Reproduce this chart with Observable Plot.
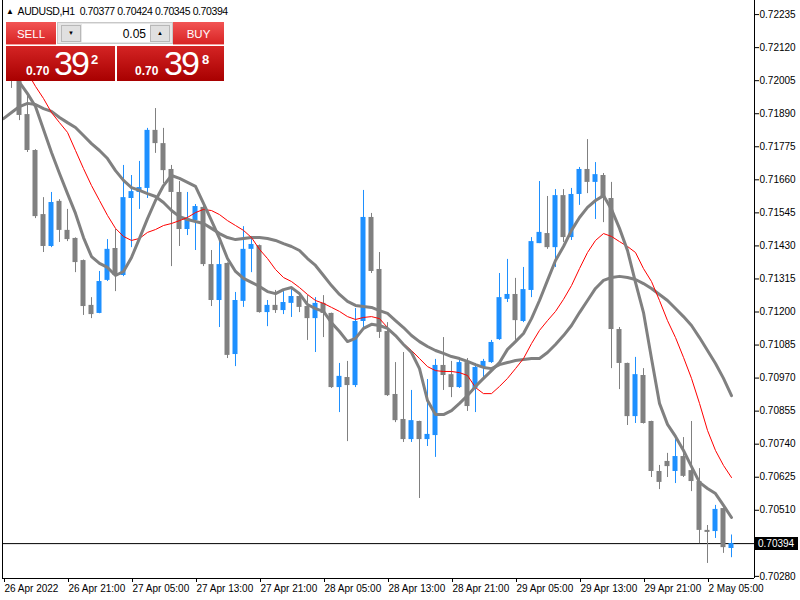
<!DOCTYPE html>
<html><head><meta charset="utf-8">
<script src="https://cdn.jsdelivr.net/npm/d3@7"></script>
<script src="https://cdn.jsdelivr.net/npm/@observablehq/plot@0.6"></script>
<style>
body{margin:0;background:#fff;}
#wrap{position:relative;width:800px;height:600px;overflow:hidden;font-family:"Liberation Sans",Arial,sans-serif;}
#chart{position:absolute;left:0;top:0;}
.abs{position:absolute;line-height:1;white-space:nowrap;}
#title{left:6px;top:6px;font-size:10.5px;letter-spacing:-0.4px;color:#000;}
#title .tri{font-size:8px;position:relative;top:-1px;margin-right:4px;}
.btn{position:absolute;top:22px;height:23px;background:linear-gradient(#f25454,#d82424);border-bottom:1px solid #f4a0a0;box-sizing:border-box;}
.btn span{position:absolute;left:0;right:0;text-align:center;top:6px;color:#fff;font-size:11.5px;}
#lot{left:57px;top:22px;width:116px;height:22px;background:#e6e6e6;border:1px solid #c8c8c8;box-sizing:border-box;}
.arrow{position:absolute;top:2px;width:20px;height:17px;background:#e0e0e0;border:1px solid #b8b8b8;box-sizing:border-box;font-size:6px;text-align:center;line-height:15px;color:#000;}
#field{position:absolute;left:24px;top:1px;width:68px;height:18px;background:#fff;}
#field span{position:absolute;right:4px;top:4px;font-size:12px;color:#000;}
.big{position:absolute;top:46px;height:35px;background:linear-gradient(#d42424,#a80000);}
.big .s{position:absolute;color:#fff;font-weight:bold;font-size:12px;line-height:1;}
.big .b{position:absolute;color:#fff;font-size:34px;line-height:1;letter-spacing:-2px;}
.big .p{position:absolute;color:#fff;font-weight:bold;font-size:13px;line-height:1;}
#tag{position:absolute;left:755px;width:43px;height:13px;background:#000;color:#fff;font-size:10px;line-height:13px;text-align:left;padding-left:3px;box-sizing:border-box;}
</style></head><body>
<div id="wrap">
<div id="chart"></div>
<div id="title" class="abs"><span class="tri">▲</span>AUDUSD,H1&nbsp; 0.70377 0.70424 0.70345 0.70394</div>
<div class="btn" style="left:6px;width:50px;"><span>SELL</span></div>
<div id="lot" class="abs">
  <div class="arrow" style="left:3px;">▼</div>
  <div id="field"><span>0.05</span></div>
  <div class="arrow" style="left:92px;">▲</div>
</div>
<div class="btn" style="left:173px;width:51px;"><span>BUY</span></div>
<div class="big" style="left:6px;width:109px;">
  <span class="s" style="left:20px;top:19px;">0.70</span>
  <span class="b" style="left:48px;top:0px;">39</span>
  <span class="p" style="left:85px;top:7px;">2</span>
</div>
<div class="big" style="left:117px;width:107px;">
  <span class="s" style="left:18px;top:19px;">0.70</span>
  <span class="b" style="left:47px;top:0px;">39</span>
  <span class="p" style="left:85px;top:7px;">8</span>
</div>
<div id="tag">0.70394</div>
</div>
<script>
// Tick labels (every 8 hourly bars)
const tickIndex = [0, 8, 16, 24, 32, 40, 48, 56, 64, 72, 80, 88];
const tickLabels = ["26 Apr 2022","26 Apr 21:00","27 Apr 05:00","27 Apr 13:00","27 Apr 21:00","28 Apr 05:00","28 Apr 13:00","28 Apr 21:00","29 Apr 05:00","29 Apr 13:00","29 Apr 21:00","2 May 05:00"];
const yTicks = [0.72235,0.72120,0.72005,0.71890,0.71775,0.71660,0.71545,0.71430,0.71315,0.71200,0.71085,0.70970,0.70855,0.70740,0.70625,0.70510,0.70280];
const lastPrice = 0.70394;

// OHLC per hourly bar (index 0 = 26 Apr 13:00)
const opens = [null,
0.72040,0.72019,0.71887,0.71762,0.71539,0.71428,0.71585,0.71484,0.71456,0.71379,
0.71223,0.71195,0.71310,0.71421,0.71327,0.71595,0.71616,0.71630,0.71832,0.71786,
0.71696,0.71616,0.71487,0.71518,0.71564,0.71365,0.71240,0.71369,0.71052,0.71237,
0.71418,0.71431,0.71198,0.71223,0.71205,0.71230,0.71254,0.71219,0.71177,0.71230,
0.71195,0.70937,0.70972,0.70944,0.71167,0.71529,0.71348,0.71132,0.70913,0.70826,
0.70756,0.70819,0.70756,0.70770,0.71014,0.70982,0.70937,0.71024,0.70934,0.71007,
0.71024,0.71104,0.71244,0.71261,0.71167,0.71275,0.71438,0.71473,0.71424,0.71605,
0.71459,0.71609,0.71696,0.71651,0.71675,0.71595,0.71139,0.71021,0.70836,0.70979,
0.70819,0.70645,0.70680,0.70645,0.70697,0.70648,0.70610,0.70440,0.70436,0.70516,0.70377];
const highs = [null,
0.72068,0.72040,0.71953,0.71765,0.71598,0.71616,0.71591,0.71557,0.71458,0.71381,
0.71250,0.71341,0.71452,0.71487,0.71710,0.71675,0.71724,0.71839,0.71908,0.71839,
0.71710,0.71654,0.71616,0.71574,0.71567,0.71414,0.71449,0.71371,0.71268,0.71497,
0.71463,0.71433,0.71240,0.71275,0.71271,0.71282,0.71268,0.71257,0.71250,0.71257,
0.71196,0.71021,0.71028,0.71212,0.71623,0.71543,0.71407,0.71163,0.71024,0.71059,
0.70927,0.70820,0.70965,0.71035,0.71111,0.71028,0.71031,0.71038,0.71021,0.71035,
0.71101,0.71334,0.71383,0.71317,0.71355,0.71459,0.71654,0.71602,0.71626,0.71626,
0.71630,0.71703,0.71800,0.71720,0.71682,0.71651,0.71146,0.71022,0.71042,0.71003,
0.70820,0.70666,0.70708,0.70756,0.70763,0.70819,0.70655,0.70457,0.70527,0.70518,0.70424];
const lows = [null,
0.71978,0.71866,0.71755,0.71525,0.71407,0.71424,0.71442,0.71445,0.71337,0.71188,
0.71177,0.71194,0.71306,0.71271,0.71323,0.71424,0.71557,0.71595,0.71752,0.71647,
0.71358,0.71428,0.71466,0.71414,0.71358,0.71219,0.71146,0.71038,0.71010,0.71216,
0.71337,0.71196,0.71149,0.71195,0.71191,0.71181,0.71198,0.71101,0.71059,0.71111,
0.70934,0.70850,0.70749,0.70937,0.71143,0.71334,0.71108,0.70906,0.70815,0.70746,
0.70746,0.70551,0.70732,0.70694,0.70927,0.70902,0.70934,0.70854,0.70850,0.70962,
0.71021,0.71101,0.71233,0.71101,0.71163,0.71250,0.71438,0.71418,0.71355,0.71442,
0.71449,0.71571,0.71612,0.71522,0.71511,0.71003,0.70930,0.70805,0.70812,0.70810,
0.70624,0.70582,0.70624,0.70603,0.70624,0.70575,0.70394,0.70325,0.70412,0.70360,0.70345];
const closes = [null,
0.72020,0.71884,0.71762,0.71532,0.71428,0.71581,0.71484,0.71452,0.71372,0.71219,
0.71191,0.71306,0.71418,0.71327,0.71598,0.71619,0.71633,0.71832,0.71786,0.71692,
0.71616,0.71487,0.71525,0.71567,0.71365,0.71240,0.71365,0.71049,0.71240,0.71418,
0.71435,0.71198,0.71223,0.71205,0.71233,0.71254,0.71216,0.71177,0.71230,0.71195,
0.70937,0.70976,0.70944,0.71167,0.71529,0.71341,0.71129,0.70909,0.70822,0.70756,
0.70822,0.70756,0.70774,0.71014,0.70979,0.70937,0.71024,0.70871,0.71007,0.71028,
0.71094,0.71250,0.71261,0.71170,0.71278,0.71445,0.71477,0.71424,0.71605,0.71459,
0.71609,0.71696,0.71651,0.71678,0.71598,0.71139,0.71021,0.70836,0.70982,0.70812,
0.70645,0.70607,0.70662,0.70697,0.70628,0.70610,0.70440,0.70433,0.70513,0.70380,0.70394];

// Moving averages
const maFast = [null,
0.72068,0.71999,0.71960,0.71915,0.71835,0.71755,0.71682,0.71612,0.71543,0.71459,
0.71393,0.71369,0.71355,0.71327,0.71341,0.71390,0.71456,0.71525,0.71588,0.71640,
0.71675,0.71665,0.71651,0.71637,0.71578,0.71518,0.71456,0.71386,0.71341,0.71317,
0.71303,0.71289,0.71271,0.71264,0.71278,0.71285,0.71264,0.71226,0.71212,0.71202,
0.71163,0.71132,0.71097,0.71108,0.71143,0.71157,0.71153,0.71143,0.71118,0.71087,
0.71059,0.71003,0.70892,0.70843,0.70843,0.70857,0.70882,0.70909,0.70941,0.70969,
0.70996,0.71024,0.71070,0.71097,0.71125,0.71177,0.71240,0.71310,0.71379,0.71428,
0.71484,0.71529,0.71564,0.71588,0.71605,0.71557,0.71491,0.71414,0.71303,0.71198,
0.71038,0.70882,0.70809,0.70767,0.70718,0.70662,0.70607,0.70586,0.70568,0.70527,0.70485];
const maRed = [null,null,
0.72068,0.72033,0.71985,0.71943,0.71894,0.71859,0.71825,0.71762,
0.71699,0.71640,0.71588,0.71536,0.71491,0.71463,0.71449,0.71456,0.71477,0.71487,
0.71501,0.71508,0.71518,0.71529,0.71546,0.71557,0.71553,0.71539,0.71518,0.71501,
0.71484,0.71459,0.71418,0.71386,0.71348,0.71320,0.71306,0.71285,0.71261,0.71240,
0.71230,0.71216,0.71202,0.71184,0.71174,0.71181,0.71184,0.71177,0.71146,0.71115,
0.71090,0.71066,0.71038,0.71010,0.70996,0.70993,0.70993,0.70989,0.70979,0.70937,
0.70916,0.70916,0.70941,0.70969,0.71003,0.71038,0.71090,0.71136,0.71170,0.71202,
0.71244,0.71292,0.71351,0.71407,0.71449,0.71473,0.71463,0.71445,0.71428,0.71407,
0.71351,0.71306,0.71240,0.71170,0.71111,0.71042,0.70969,0.70882,0.70788,0.70718,
0.70666,0.70624];
const maSlow = [
0.71873,0.71894,0.71915,0.71926,0.71922,0.71908,0.71898,0.71877,0.71859,0.71842,
0.71814,0.71786,0.71762,0.71734,0.71692,0.71658,0.71633,0.71623,0.71612,0.71602,
0.71581,0.71553,0.71532,0.71522,0.71515,0.71508,0.71491,0.71473,0.71459,0.71452,
0.71456,0.71459,0.71459,0.71456,0.71449,0.71438,0.71428,0.71414,0.71386,0.71362,
0.71327,0.71292,0.71261,0.71237,0.71223,0.71219,0.71216,0.71205,0.71195,0.71170,
0.71146,0.71118,0.71097,0.71080,0.71066,0.71056,0.71045,0.71038,0.71028,0.71017,
0.71007,0.71003,0.71017,0.71024,0.71031,0.71035,0.71038,0.71038,0.71059,0.71087,
0.71118,0.71153,0.71198,0.71240,0.71282,0.71310,0.71320,0.71324,0.71320,0.71313,
0.71299,0.71282,0.71261,0.71240,0.71212,0.71184,0.71153,0.71111,0.71066,0.71021,
0.70969,0.70909];

const xDomain = [-0.125, 93.875];
const yDomain = [0.702726, 0.72284];
const BULL = "#1e90ff", BEAR = "#808080";

const bars = opens.map((o, i) => ({i, o, h: highs[i], l: lows[i], c: closes[i]}))
  .filter(d => d.o != null)
  .map(d => ({...d, col: d.c > d.o ? BULL : BEAR}));
const series = arr => arr.map((v, i) => ({i, v})).filter(d => d.v != null);
const labelOf = new Map(tickIndex.map((t, j) => [t, tickLabels[j]]));

const chart = Plot.plot({
  width: 800, height: 600,
  marginLeft: 2, marginRight: 46, marginTop: 0, marginBottom: 22,
  x: {domain: xDomain, axis: null, label: null},
  y: {domain: yDomain, axis: null, label: null},
  style: {fontFamily: '"Liberation Sans", Arial, sans-serif', fontSize: "10px", color: "black", background: "white", overflow: "visible"},
  marks: [
    Plot.ruleY([lastPrice], {stroke: "black", strokeWidth: 1}),
    Plot.ruleX(bars, {x: "i", y1: "l", y2: "h", stroke: "col", strokeWidth: 1}),
    Plot.rect(bars, {x1: d => d.i - 0.3125, x2: d => d.i + 0.3125, y1: "o", y2: "c", fill: "col"}),
    Plot.line(series(maSlow), {x: "i", y: "v", stroke: "#808080", strokeWidth: 3}),
    Plot.line(series(maRed), {x: "i", y: "v", stroke: "#ff0000", strokeWidth: 1}),
    Plot.line(series(maFast), {x: "i", y: "v", stroke: "#808080", strokeWidth: 3}),
    Plot.ruleX([xDomain[0], xDomain[1]], {stroke: "black"}),
    Plot.ruleY([yDomain[0]], {stroke: "black"}),
    Plot.axisY(yTicks, {anchor: "right", label: null, tickSize: 4, tickPadding: 1, tickFormat: d => d.toFixed(5), stroke: "black", fill: "black"}),
    Plot.axisX(tickIndex, {anchor: "bottom", label: null, tickSize: 4, tickPadding: 2, textAnchor: "start", dx: 1, tickFormat: d => labelOf.get(d), stroke: "black", fill: "black"})
  ]
});
document.getElementById("chart").append(chart);
const yPix = chart.scale("y").apply(lastPrice);
document.getElementById("tag").style.top = (yPix - 6) + "px";
</script>
</body></html>
